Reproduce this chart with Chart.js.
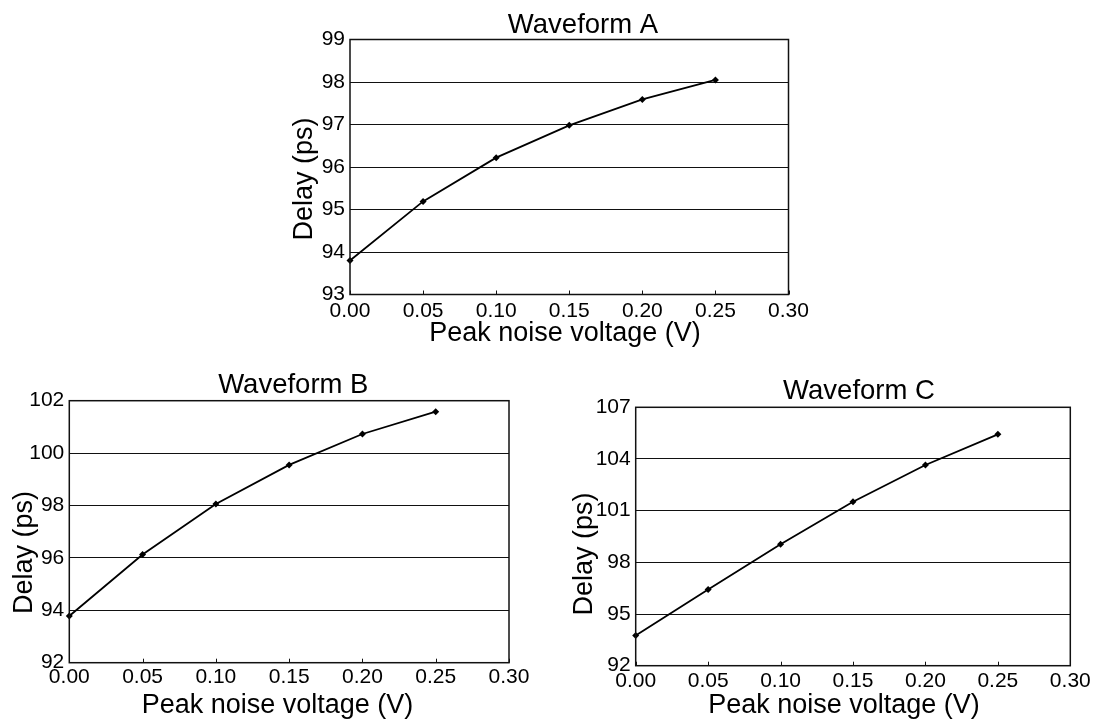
<!DOCTYPE html>
<html>
<head>
<meta charset="utf-8">
<script src="https://cdn.jsdelivr.net/npm/chart.js@4.4.1/dist/chart.umd.min.js"></script>
<style>
  html, body { margin: 0; padding: 0; background: #fff; }
  body { width: 1099px; height: 722px; position: relative; overflow: hidden; }
  canvas { position: absolute; }
</style>
</head>
<body>
<canvas id="chartA" width="560" height="360" style="left:270px;top:0px"></canvas>
<canvas id="chartB" width="540" height="352" style="left:0px;top:370px"></canvas>
<canvas id="chartC" width="539" height="352" style="left:560px;top:370px"></canvas>
<script>
// peak noise voltage (V) on x, delay (ps) on y
const voltage = [0.00, 0.05, 0.10, 0.15, 0.20, 0.25];
const delayA = [93.80, 95.19, 96.22, 96.98, 97.59, 98.05];
const delayB = [93.78, 96.13, 98.06, 99.55, 100.73, 101.58];
const delayC = [93.75, 96.42, 99.05, 101.52, 103.65, 105.43];

const xTicks = { min: 0, max: 0.30, step: 0.05 };
const yTicksA = { min: 93, max: 99, step: 1 };
const yTicksB = { min: 92, max: 102, step: 2 };
const yTicksC = { min: 92, max: 107, step: 3 };

const FONT = '"Liberation Sans", Arial, Helvetica, sans-serif';
Chart.defaults.font.family = FONT;
Chart.defaults.color = '#000';

// box around the plot, small inner ticks on the x axis, and the three titles
const frame = {
  id: 'frame',
  afterDraw(chart, args, o) {
    const { ctx, chartArea: a, scales: { x } } = chart;
    ctx.save();
    ctx.strokeStyle = '#111';
    ctx.lineWidth = 1.5;
    ctx.strokeRect(a.left, a.top, a.width, a.height);
    ctx.lineWidth = 1;
    x.ticks.forEach(t => {
      const px = Math.round(x.getPixelForValue(t.value)) + 0.5;
      ctx.beginPath(); ctx.moveTo(px, a.bottom); ctx.lineTo(px, a.bottom - 4); ctx.stroke();
    });
    ctx.fillStyle = '#000';
    ctx.textAlign = 'center';
    ctx.textBaseline = 'alphabetic';
    ctx.font = '27.5px ' + FONT;
    ctx.fillText(o.title, o.titleAt[0], o.titleAt[1]);
    ctx.font = '27px ' + FONT;
    ctx.fillText('Peak noise voltage (V)', o.xTitleAt[0], o.xTitleAt[1]);
    ctx.translate(o.yTitleAt[0], o.yTitleAt[1]);
    ctx.rotate(-Math.PI / 2);
    ctx.fillText('Delay (ps)', 0, 0);
    ctx.restore();
  }
};

function makeChart(id, title, values, yr, box) {
  return new Chart(document.getElementById(id), {
    type: 'line',
    data: {
      datasets: [{
        data: voltage.map((v, i) => ({ x: v, y: values[i] })),
        borderColor: '#000', borderWidth: 1.8,
        pointStyle: 'rectRot', pointRadius: 3.5,
        pointBackgroundColor: '#000', pointBorderColor: '#000', pointBorderWidth: 0,
        tension: 0, clip: false
      }]
    },
    options: {
      responsive: false, animation: false, devicePixelRatio: 1,
      layout: { padding: { left: 0, top: box.top, right: box.right, bottom: 0 } },
      plugins: {
        legend: { display: false }, tooltip: { enabled: false },
        frame: { title, titleAt: box.titleAt, xTitleAt: box.xTitleAt, yTitleAt: box.yTitleAt }
      },
      scales: {
        x: {
          type: 'linear', min: xTicks.min, max: xTicks.max,
          grid: { display: false, drawTicks: false }, border: { display: false },
          ticks: { stepSize: xTicks.step, padding: box.xPad, font: { size: 21 }, color: '#000',
                   maxRotation: 0, autoSkip: false, callback: v => v.toFixed(2) },
          afterFit: s => { s.height = box.xHeight; }
        },
        y: {
          min: yr.min, max: yr.max,
          grid: { color: '#111', lineWidth: 1, drawTicks: false }, border: { display: false },
          ticks: { stepSize: yr.step, padding: 5, font: { size: 21 }, color: '#000' },
          afterFit: s => { s.width = box.yWidth; }
        }
      }
    },
    plugins: [frame]
  });
}

makeChart('chartA', 'Waveform A', delayA, yTicksA, {
  top: 39.5, right: 41.5, yWidth: 80, xHeight: 65.5, xPad: 4.4,
  titleAt: [313, 33.3], xTitleAt: [295, 341], yTitleAt: [41.7, 179]
});
makeChart('chartB', 'Waveform B', delayB, yTicksB, {
  top: 30.7, right: 31, yWidth: 69.3, xHeight: 59.3, xPad: 1.7,
  titleAt: [293.3, 23.3], xTitleAt: [277.5, 342.6], yTitleAt: [31.7, 182.5]
});
makeChart('chartC', 'Waveform C', delayC, yTicksC, {
  top: 37.3, right: 28.7, yWidth: 75.7, xHeight: 56.3, xPad: 2.7,
  titleAt: [299, 29], xTitleAt: [284, 342.6], yTitleAt: [31.7, 184]
});
</script>
</body>
</html>
